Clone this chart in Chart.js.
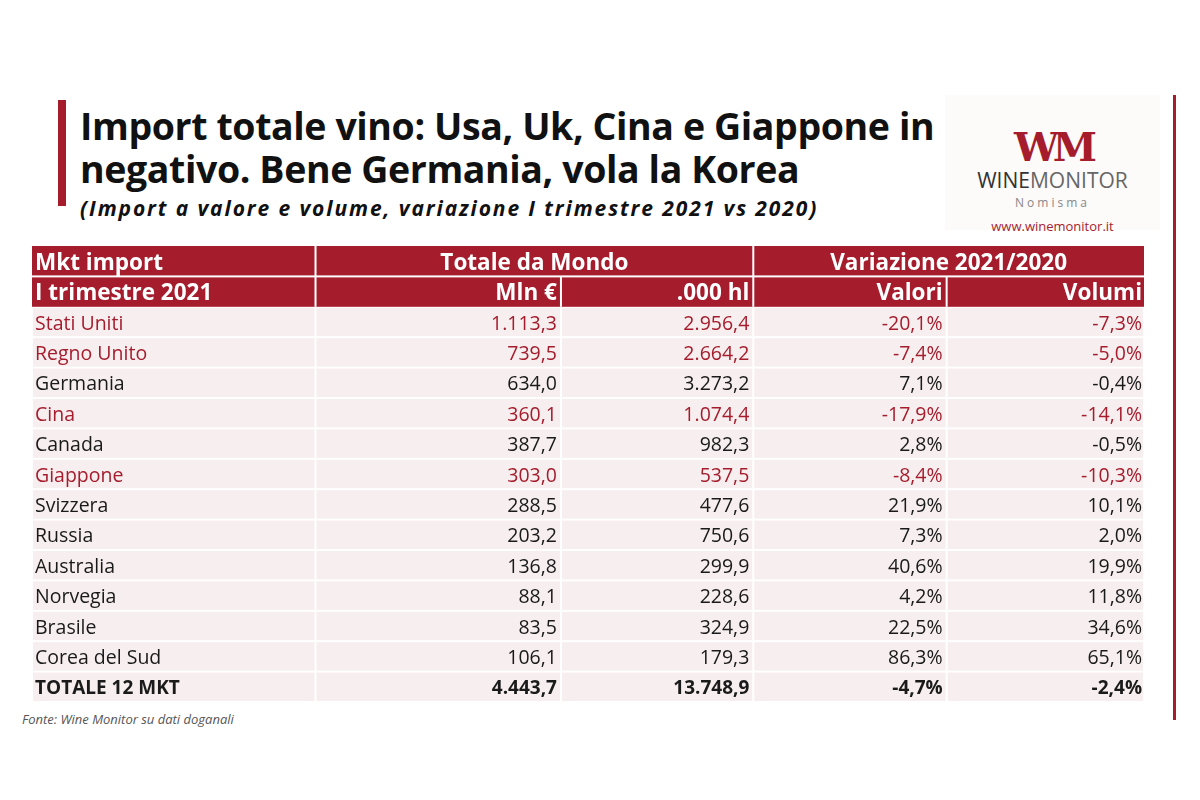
<!DOCTYPE html>
<html><head><meta charset="utf-8">
<script src="https://cdn.jsdelivr.net/npm/chart.js@4"></script>
<style>
body{margin:0;width:1200px;height:800px;background:#fff;font-family:"Open Sans",sans-serif;position:relative;overflow:hidden}
#bar{position:absolute;left:58px;top:100px;width:8px;height:106px;background:#a51d2d}
#rline{position:absolute;left:1173px;top:95px;width:3px;height:625px;background:#a51d2d}
#t{position:absolute;left:80px;top:104px;font-size:37.5px;font-weight:700;line-height:43px;color:#111;letter-spacing:-0.4px;z-index:2}
#s{position:absolute;left:80px;top:194px;font-size:21px;font-weight:700;font-style:italic;color:#111;letter-spacing:1.9px}
#logo{position:absolute;left:945px;top:95px;width:215px;height:135px;background:#fdfafa;text-align:center;z-index:1}
#f{position:absolute;left:22px;top:710px;font-size:13px;font-style:italic;color:#555}
canvas{position:absolute;left:32px;top:246px}
</style></head><body>
<div id="bar"></div><div id="rline"></div>
<div id="t">Import totale vino: Usa, Uk, Cina e Giappone in<br>negativo. Bene Germania, vola la Korea</div>
<div id="s">(Import a valore e volume, variazione I trimestre 2021 vs 2020)</div>
<div id="logo">
<div style="margin-top:28px;font-size:40px;font-weight:700;color:#a51d2d;letter-spacing:-6px;font-family:'DejaVu Serif',serif">WM</div>
<div style="font-size:21px;color:#333;margin-top:-4px">WINE<span style="color:#666">MONITOR</span></div>
<div style="font-size:12px;color:#888;letter-spacing:3px">Nomisma</div>
<div style="font-size:13px;color:#a51d2d;margin-top:6px">www.winemonitor.it</div>
</div>
<div id="f">Fonte: Wine Monitor su dati doganali</div>
<canvas id="c" width="1112" height="456"></canvas>
<script>
const categories=["Stati Uniti","Regno Unito","Germania","Cina","Canada","Giappone","Svizzera","Russia","Australia","Norvegia","Brasile","Corea del Sud","TOTALE 12 MKT"];
const valoreMln=["1.113,3","739,5","634,0","360,1","387,7","303,0","288,5","203,2","136,8","88,1","83,5","106,1","4.443,7"];
const volumeHl=["2.956,4","2.664,2","3.273,2","1.074,4","982,3","537,5","477,6","750,6","299,9","228,6","324,9","179,3","13.748,9"];
const varValori=["-20,1%","-7,4%","7,1%","-17,9%","2,8%","-8,4%","21,9%","7,3%","40,6%","4,2%","22,5%","86,3%","-4,7%"];
const varVolumi=["-7,3%","-5,0%","-0,4%","-14,1%","-0,5%","-10,3%","10,1%","2,0%","19,9%","11,8%","34,6%","65,1%","-2,4%"];
const redRows=["Stati Uniti","Regno Unito","Cina","Giappone"];
const colEdges=[0,283,528,720,913,1110];
const RED="#a51d2d";
const tablePlugin={id:"table",afterDraw(ch){
 const c=ch.ctx,x=ch.scales.x,y=ch.scales.y;
 const X=v=>x.getPixelForValue(v),Y=v=>y.getPixelForValue(v);
 const rows=2+categories.length;
 for(let r=0;r<rows;r++){
  const y0=Y(r),y1=Y(r+1);
  if(r<2){
   c.fillStyle=RED;c.fillRect(X(0),y0,X(1110)-X(0),y1-y0);
  }else{
   for(let k=0;k<5;k++){c.fillStyle="#f7eeef";c.fillRect(X(colEdges[k])+1,y0+1,X(colEdges[k+1])-X(colEdges[k])-2,y1-y0-2);}
  }
 }
 c.fillStyle="#fff";
 [283,720].forEach(e=>c.fillRect(X(e)-1,Y(0),2,Y(2)-Y(0)));
 [528,913].forEach(e=>c.fillRect(X(e)-1,Y(1),2,Y(2)-Y(1)));
 c.fillRect(X(0),Y(1)-1,X(1110)-X(0),2);
 c.textBaseline="middle";
 const txt=(s,px,r,al,col,bold,sz)=>{c.font=(bold?"700 ":"")+(sz||19.5)+"px 'Open Sans'";c.fillStyle=col;c.textAlign=al;c.fillText(s,px,(Y(r)+Y(r+1))/2+2);};
 const H=22.5;
 txt("Mkt import",X(3),0,"left","#fff",1,H);
 txt("Totale da Mondo",(X(283)+X(720))/2,0,"center","#fff",1,H);
 txt("Variazione 2021/2020",(X(720)+X(1110))/2,0,"center","#fff",1,H);
 txt("I trimestre 2021",X(3),1,"left","#fff",1,H);
 txt("Mln €",X(524),1,"right","#fff",1,H);
 txt(".000 hl",X(716),1,"right","#fff",1,H);
 txt("Valori",X(909),1,"right","#fff",1,H);
 txt("Volumi",X(1108),1,"right","#fff",1,H);
 categories.forEach((n,i)=>{
  const r=i+2,col=redRows.includes(n)?RED:"#1a1a1a",b=i===categories.length-1;
  const sz=b?19:19.5;
  txt(n,X(3),r,"left",col,b,sz);
  txt(valoreMln[i],X(524),r,"right",col,b,sz);
  txt(volumeHl[i],X(716),r,"right",col,b,sz);
  txt(varValori[i],X(909),r,"right",col,b,sz);
  txt(varVolumi[i],X(1108),r,"right",col,b,sz);
 });
}};
new Chart(document.getElementById("c"),{type:"scatter",data:{datasets:[{data:[]}]},
 options:{responsive:false,animation:false,devicePixelRatio:1,layout:{padding:0},
 plugins:{legend:{display:false},tooltip:{enabled:false}},
 scales:{x:{type:"linear",min:0,max:1110,display:false},y:{type:"linear",min:0,max:15,reverse:true,display:false}}},
 plugins:[tablePlugin]});
</script></body></html>
